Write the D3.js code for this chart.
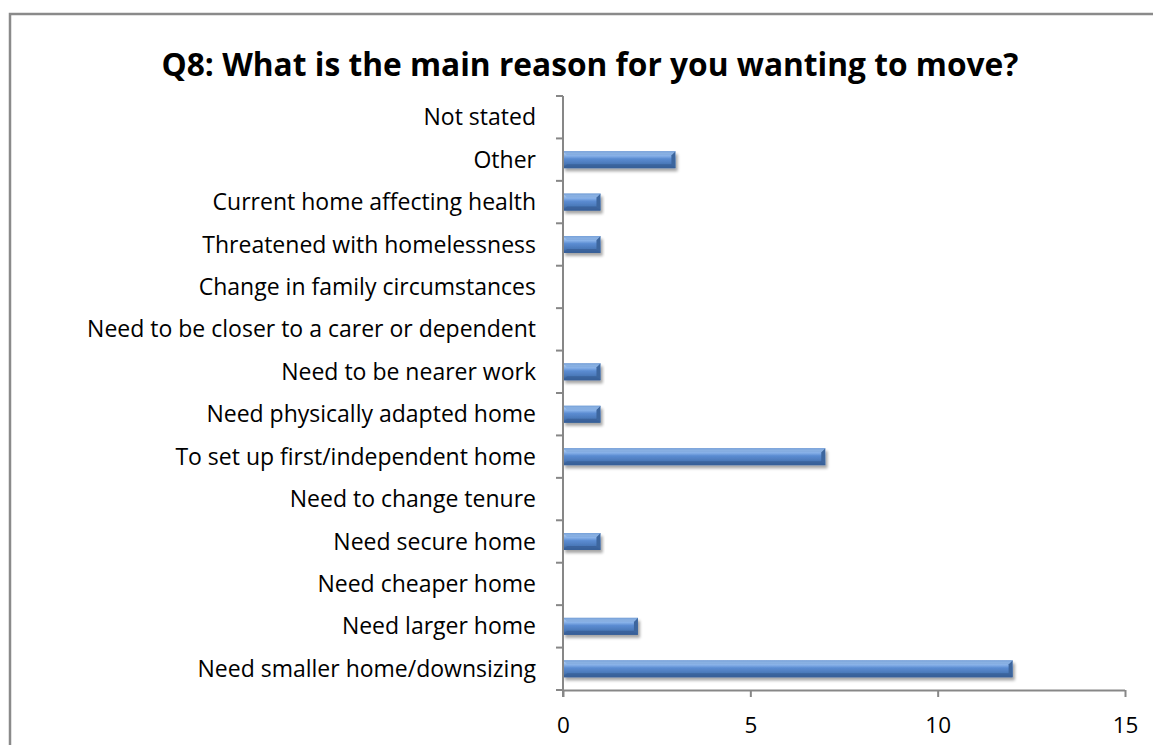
<!DOCTYPE html>
<html>
<head>
<meta charset="utf-8">
<script src="https://cdn.jsdelivr.net/npm/d3@7"></script>
<style>
  html, body { margin: 0; padding: 0; background: #fff; }
  svg { display: block; }
</style>
</head>
<body>
<svg id="chart" width="1153" height="745"></svg>
<script>
// Survey answers, listed bottom-to-top as they appear on the axis
const categories = [
  "Need smaller home/downsizing",
  "Need larger home",
  "Need cheaper home",
  "Need secure home",
  "Need to change tenure",
  "To set up first/independent home",
  "Need physically adapted home",
  "Need to be nearer work",
  "Need to be closer to a carer or dependent",
  "Change in family circumstances",
  "Threatened with homelessness",
  "Current home affecting health",
  "Other",
  "Not stated"
];
const counts = [12, 2, 0, 1, 0, 7, 1, 1, 0, 0, 1, 1, 3, 0];
const xTicks = [0, 5, 10, 15];
const title = "Q8: What is the main reason for you wanting to move?";

const svg = d3.select("#chart");
const font = "'Open Sans', sans-serif";
const axisColor = "#878787";

// outer chart frame (top and left edges visible)
svg.append("path")
  .attr("d", "M10,1000 L10,14 L1200,14")
  .attr("fill", "none").attr("stroke", "#8a8a8a").attr("stroke-width", 2.5);

const plot = { left: 563, right: 1125, top: 96, bottom: 690 };

const x = d3.scaleLinear().domain([0, 15]).range([plot.left, plot.right]);
const y = d3.scaleBand().domain(categories).range([plot.bottom, plot.top]).paddingInner(0.6).paddingOuter(0.3);
const yEdges = d3.scaleLinear().domain([0, categories.length]).range([plot.bottom, plot.top]);

// gradients for the bevelled bars
const defs = svg.append("defs");
const g = defs.append("linearGradient").attr("id", "barFill").attr("x1", 0).attr("y1", 0).attr("x2", 0).attr("y2", 1);
[["0%", "#5f8fd0"], ["12%", "#a8c9f2"], ["28%", "#86b0e8"], ["45%", "#5b8cd2"], ["75%", "#4a78b8"], ["100%", "#2f578d"]]
  .forEach(([o, c]) => g.append("stop").attr("offset", o).attr("stop-color", c));
const sh = defs.append("filter").attr("id", "shadow").attr("x", "-5%").attr("y", "-30%").attr("width", "115%").attr("height", "180%");
sh.append("feGaussianBlur").attr("in", "SourceAlpha").attr("stdDeviation", 1.6).attr("result", "b");
sh.append("feOffset").attr("in", "b").attr("dx", 2).attr("dy", 2.5).attr("result", "o");
sh.append("feComponentTransfer").attr("in", "o").attr("result", "s")
  .append("feFuncA").attr("type", "linear").attr("slope", 0.35);
const m = sh.append("feMerge");
m.append("feMergeNode").attr("in", "s");
m.append("feMergeNode").attr("in", "SourceGraphic");

// title
svg.append("text")
  .attr("x", 590).attr("y", 76)
  .attr("text-anchor", "middle")
  .attr("font-family", font).attr("font-weight", "bold").attr("font-size", 31.7)
  .attr("fill", "#000")
  .text(title);

// bars
const bh = y.bandwidth();
const bars = svg.append("g").selectAll("g.bar")
  .data(categories.map((c, i) => ({ c, v: counts[i] })).filter(d => d.v > 0))
  .join("g").attr("class", "bar").attr("filter", "url(#shadow)");

bars.append("rect")
  .attr("x", x(0)).attr("y", d => y(d.c))
  .attr("width", d => x(d.v) - x(0)).attr("height", bh)
  .attr("fill", "url(#barFill)");

// darker bevel at the bar end
bars.append("path")
  .attr("d", d => {
    const x1 = x(d.v), y0 = y(d.c), b = 4;
    return `M${x1 - b},${y0 + b} L${x1},${y0} L${x1},${y0 + bh} L${x1 - b},${y0 + bh - b} Z`;
  })
  .attr("fill", "#3d669e");
// darker bottom bevel
bars.append("path")
  .attr("d", d => {
    const x0 = x(0), x1 = x(d.v), y1 = y(d.c) + bh, b = 4;
    return `M${x0},${y1} L${x1},${y1} L${x1 - b},${y1 - b} L${x0 + b},${y1 - b} Z`;
  })
  .attr("fill", "#3a629a").attr("opacity", 0.85);
// lighter top-left bevel
bars.append("path")
  .attr("d", d => {
    const x0 = x(0), x1 = x(d.v), y0 = y(d.c), b = 4;
    return `M${x0},${y0} L${x1},${y0} L${x1 - b},${y0 + b} L${x0 + b},${y0 + b} Z`;
  })
  .attr("fill", "#7ea6dc").attr("opacity", 0.7);

// x axis
const xAxis = svg.append("g")
  .attr("transform", `translate(0,${plot.bottom})`)
  .call(d3.axisBottom(x).tickValues(xTicks).tickSize(7).tickSizeOuter(0).tickPadding(0));
xAxis.select(".domain").attr("stroke", axisColor).attr("stroke-width", 2).attr("d", `M${plot.left},0.5H${plot.right}`);
xAxis.selectAll(".tick line").attr("stroke", axisColor).attr("stroke-width", 2);
xAxis.selectAll(".tick text")
  .attr("y", 43).attr("dy", null)
  .attr("font-family", font).attr("font-size", 22.5).attr("fill", "#000");

// y axis: line with ticks on category boundaries
const yAxis = svg.append("g");
yAxis.append("line")
  .attr("x1", plot.left).attr("x2", plot.left)
  .attr("y1", plot.top).attr("y2", plot.bottom + 7)
  .attr("stroke", axisColor).attr("stroke-width", 2);
yAxis.selectAll("line.tick")
  .data(d3.range(categories.length + 1))
  .join("line").attr("class", "tick")
  .attr("x1", plot.left - 7).attr("x2", plot.left)
  .attr("y1", i => yEdges(i)).attr("y2", i => yEdges(i))
  .attr("stroke", axisColor).attr("stroke-width", 2);
yAxis.selectAll("text")
  .data(categories)
  .join("text")
  .attr("x", 536)
  .attr("y", c => y(c) + bh / 2)
  .attr("dy", "0.35em")
  .attr("text-anchor", "end")
  .attr("font-family", font).attr("font-size", 23).attr("fill", "#000")
  .text(c => c);
</script>
</body>
</html>
